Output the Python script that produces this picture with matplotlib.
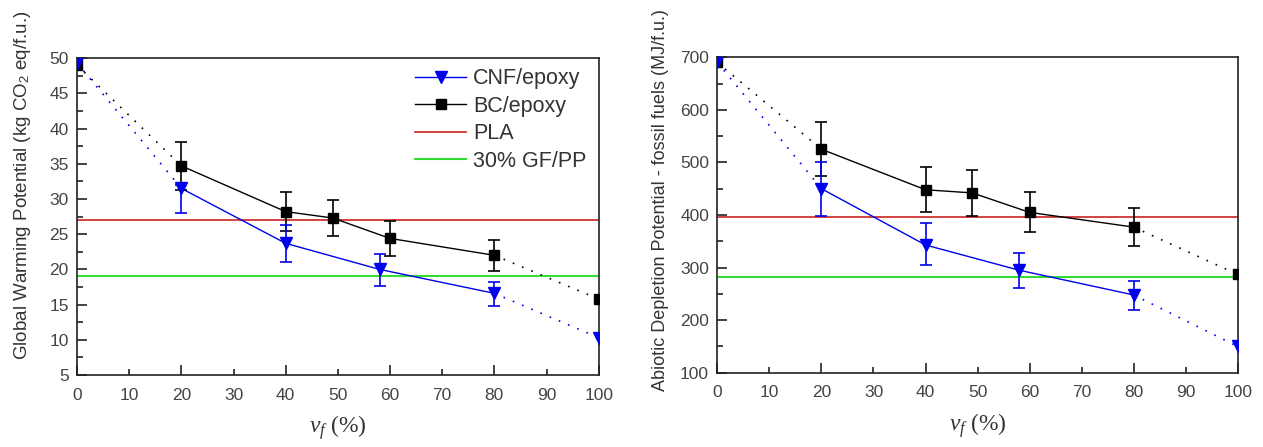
import matplotlib
matplotlib.use("Agg")
import matplotlib.pyplot as plt
from matplotlib.ticker import MultipleLocator, FormatStrFormatter
from matplotlib.lines import Line2D

plt.rcParams['font.family'] = ['Liberation Sans', 'DejaVu Sans']
plt.rcParams['mathtext.fontset'] = 'custom'
plt.rcParams['mathtext.rm'] = 'Liberation Sans'
plt.rcParams['mathtext.it'] = 'Liberation Serif:italic'

# ---- data ----
x_cnf = [0, 20, 40, 58, 80, 100]
x_bc = [0, 20, 40, 49, 60, 80, 100]

gwp_cnf = [49.3, 31.5, 23.7, 20.0, 16.6, 10.3]
gwp_cnf_lo = [0, 3.5, 2.7, 2.3, 1.8, 0]
gwp_cnf_hi = [0, 0.5, 2.6, 2.2, 1.6, 0]
gwp_bc = [49.0, 34.7, 28.2, 27.3, 24.4, 22.0, 15.8]
gwp_bc_err = [0, 3.4, 2.8, 2.6, 2.5, 2.2, 0]
gwp_pla = 27.0
gwp_gfpp = 19.1

adp_cnf = [690, 450, 343, 295, 248, 150]
adp_cnf_lo = [0, 52, 38, 33, 28, 0]
adp_cnf_hi = [0, 50, 42, 33, 27, 0]
adp_bc = [690, 525, 448, 442, 405, 377, 287]
adp_bc_err = [0, 51, 43, 43, 38, 36, 0]
adp_pla = 397
adp_gfpp = 283

labels = ['CNF/epoxy', 'BC/epoxy', 'PLA', '30% GF/PP']

fig = plt.figure(figsize=(12.63, 4.47), dpi=100)
ax1 = fig.add_axes([0.061, 0.161, 0.413, 0.709])
ax2 = fig.add_axes([0.568, 0.166, 0.412, 0.706])

blue = '#0000ee'
black = '#000000'
red = '#cc2222'
green = '#33dd33'
dot = (0, (1, 5))
tickcol = '#444444'


def panel(ax, cnf, cnf_lo, cnf_hi, bc, bc_err, pla, gfpp):
    ax.axhline(pla, color=red, lw=1.2, zorder=1)
    ax.axhline(gfpp, color=green, lw=1.5, zorder=1)
    for xs, ys, c in [(x_cnf, cnf, blue), (x_bc, bc, black)]:
        ax.plot(xs[:2], ys[:2], color=c, ls=dot, lw=1.2, zorder=2)
        ax.plot(xs[-2:], ys[-2:], color=c, ls=dot, lw=1.2, zorder=2)
    ax.plot(x_bc[1:-1], bc[1:-1], color=black, lw=1, zorder=2)
    ax.plot(x_cnf[1:-1], cnf[1:-1], color=blue, lw=1, zorder=2)
    ax.errorbar(x_bc[1:-1], bc[1:-1], yerr=bc_err[1:-1], fmt='none',
                ecolor=black, elinewidth=1.2, capsize=4, capthick=1.2, zorder=3)
    ax.errorbar(x_cnf[1:-1], cnf[1:-1],
                yerr=[cnf_lo[1:-1], cnf_hi[1:-1]], fmt='none',
                ecolor=blue, elinewidth=1.2, capsize=4, capthick=1.2, zorder=3)
    ax.plot(x_bc, bc, ls='none', marker='s', ms=7.5, color=black, zorder=4)
    ax.plot(x_cnf, cnf, ls='none', marker='v', ms=9, color=blue, zorder=5)

    ax.set_xlim(0, 100)
    ax.xaxis.set_major_locator(MultipleLocator(20))
    ax.xaxis.set_minor_locator(MultipleLocator(10))
    ax.xaxis.set_minor_formatter(FormatStrFormatter('%d'))
    ax.tick_params(which='both', direction='in', labelsize=12.5, colors='#222222',
                   labelcolor=tickcol)
    ax.tick_params(which='major', length=7, width=1.2)
    ax.tick_params(which='minor', length=4, width=1.2)
    ax.tick_params(axis='x', which='both', pad=9)
    ax.tick_params(axis='y', which='both', pad=6)
    for s in ax.spines.values():
        s.set_linewidth(1.2)
        s.set_color('#222222')
    ax.set_xlabel(r'$v_{\mathit{f}}\,\,$(%)', fontsize=17, labelpad=8,
                  family='Liberation Serif', color='#333333')


panel(ax1, gwp_cnf, gwp_cnf_lo, gwp_cnf_hi, gwp_bc, gwp_bc_err, gwp_pla, gwp_gfpp)
panel(ax2, adp_cnf, adp_cnf_lo, adp_cnf_hi, adp_bc, adp_bc_err, adp_pla, adp_gfpp)

ax1.set_ylim(5, 50)
ax1.yaxis.set_major_locator(MultipleLocator(5))
ax1.yaxis.set_minor_locator(MultipleLocator(2.5))
ax1.set_ylabel(r'Global Warming Potential (kg CO$_2$ eq/f.u.)', fontsize=13.5,
               color='#333333', va='center')
ax1.yaxis.set_label_coords(-0.105, 0.60)

ax2.set_ylim(100, 700)
ax2.yaxis.set_major_locator(MultipleLocator(100))
ax2.yaxis.set_minor_locator(MultipleLocator(50))
ax2.set_ylabel('Abiotic Depletion Potential - fossil fuels (MJ/f.u.)', fontsize=13,
               color='#333333', va='center')
ax2.yaxis.set_label_coords(-0.109, 0.547)

handles = [
    Line2D([], [], color=blue, lw=1, marker='v', ms=9),
    Line2D([], [], color=black, lw=1, marker='s', ms=7.5),
    Line2D([], [], color=red, lw=1.2),
    Line2D([], [], color=green, lw=1.5),
]
leg = ax1.legend(handles, labels, loc='upper right', frameon=False, fontsize=15.5,
                 handlelength=2.4, handletextpad=0.3, labelspacing=0.3,
                 borderaxespad=0.3, bbox_to_anchor=(1.005, 1.015))
for t in leg.get_texts():
    t.set_color('#333333')

fig.savefig('out.png', dpi=100, facecolor='white')
